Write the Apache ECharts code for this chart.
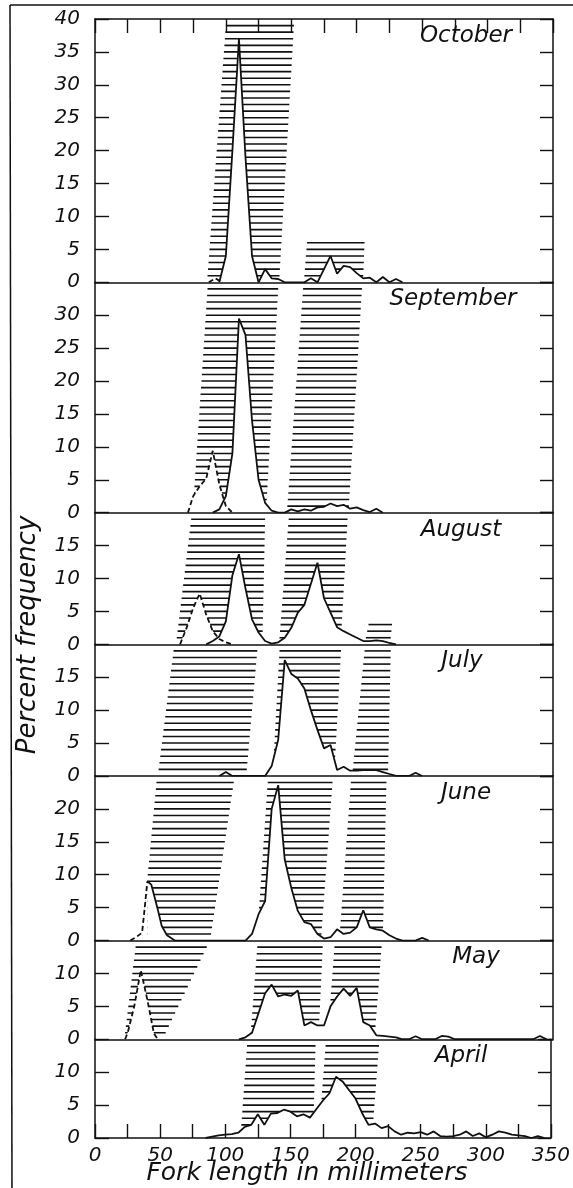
<!DOCTYPE html>
<html><head><meta charset="utf-8">
<script src="https://cdn.jsdelivr.net/npm/echarts/dist/echarts.min.js"></script>
<style>html,body{margin:0;padding:0;background:#fff}#c{width:573px;height:1188px}</style>
</head><body><div id="c"></div>
<script>
// ---------- DATA ----------
const months = ['October','September','August','July','June','May','April'];
const yMaxima = [40, 35, 20, 20, 25, 15, 15];
const xTickLabels = [0, 50, 100, 150, 200, 250, 300, 350];

// frequency polygons: [fork length mm, percent]
const octoberSolid = [[95,0],[100,4],[105,20],[110,37],[115,19],[120,4],[125,0],[130,2],[135,0.6],[140,0.5],[145,0],[160,0],[165,0.6],[170,0],[175,2],[180,4],[185,1.3],[190,2.5],[195,2.3],[200,1.4],[205,0.6],[210,0.7],[215,0],[220,0.8],[225,0],[230,0.5],[235,0]];
const octoberDashed = [[87,0],[92,0.6],[97,0]];

const septemberSolid = [[90,0],[95,0.5],[100,2.5],[105,9],[110,29.5],[115,27],[120,14],[125,5],[130,1.5],[135,0.3],[140,0],[145,0],[150,0.5],[155,0.2],[160,0.5],[165,0.3],[170,0.8],[175,0.9],[180,1.4],[185,1.0],[190,1.2],[195,0.6],[200,0.8],[205,0.4],[210,0.1],[215,0.6],[220,0]];
const septemberDashed = [[71,0],[75,2.5],[80,4],[85,5.2],[90,9.4],[95,4.3],[100,1],[105,0]];

const augustSolid = [[85,0],[90,0.5],[95,1.2],[100,3.5],[105,10.5],[110,13.7],[115,8.5],[120,3.8],[125,1.8],[130,0.5],[135,0.1],[140,0.3],[145,1.0],[150,2.5],[155,4.8],[160,6],[165,9.2],[170,12.4],[175,7],[180,4.8],[185,2.6],[190,2],[195,1.5],[200,1],[205,0.5],[210,0.5],[215,0.6],[220,0.5],[225,0.2],[230,0]];
const augustDashed = [[65,0],[70,2.5],[75,5.5],[80,7.7],[85,4.5],[90,2],[95,0.8],[100,0.3],[105,0]];

const julySolid = [[95,0],[100,0.6],[105,0],[130,0],[135,1.5],[140,5.5],[145,17.6],[150,15.5],[155,14.8],[160,13.3],[165,10],[170,7],[175,4.2],[180,4.7],[185,0.9],[190,1.4],[195,0.8],[200,0.8],[205,0.9],[210,0.9],[215,0.9],[220,0.6],[225,0.3],[230,0],[240,0],[245,0.5],[250,0]];
const julyDashed = [];

const juneSolid = [[40,9],[43,8.5],[48,4.7],[51,2.2],[55,0.8],[61,0],[115,0],[120,1],[125,4],[130,6],[135,20],[140,23.6],[145,12.3],[150,8],[155,4.5],[160,2.8],[165,2.5],[170,1],[175,0.3],[180,0.5],[185,1.7],[190,1],[195,1.2],[200,2],[205,4.6],[210,2],[215,1.7],[220,1.5],[225,0.8],[230,0.3],[235,0],[245,0],[250,0.4],[255,0]];
const juneDashed = [[27,0],[32,0.6],[36,1.2],[38,5],[40,9]];

const maySolid = [[110,0],[115,0.3],[120,1],[125,4],[130,7],[135,8.3],[140,6.5],[145,6.8],[150,6.6],[155,7.4],[160,2.1],[165,2.6],[170,2.1],[175,2.1],[180,5],[185,6.5],[190,7.7],[195,6.6],[200,7.8],[205,2.6],[210,2.1],[215,0.6],[220,0.5],[225,0.4],[230,0.3],[235,0],[240,0],[245,0.45],[250,0],[260,0],[265,0.5],[270,0.4],[275,0],[335,0],[340,0.5],[345,0]];
const mayDashed = [[23,0],[25,1],[30,5],[35,10.5],[40,6],[45,0.9],[48,0]];

const aprilSolid = [[85,0],[90,0.2],[95,0.4],[100,0.5],[105,0.6],[110,0.8],[115,1.7],[120,2],[125,3.6],[130,2.0],[135,3.7],[140,3.8],[145,4.3],[150,4.0],[155,3.3],[160,3.6],[165,3.1],[170,4.4],[175,5.7],[180,6.8],[185,9.3],[190,8.6],[195,7.3],[200,6],[205,3.8],[210,2.0],[215,2.2],[220,1.5],[225,1.8],[230,1.0],[235,0.5],[240,0.8],[245,0.7],[250,0.9],[255,0.5],[260,1.0],[265,0.3],[270,0.2],[275,0.3],[280,0.5],[285,1.0],[290,0.3],[295,0.7],[300,0.1],[305,0.5],[310,1.0],[315,0.8],[320,0.5],[325,0.4],[330,0.3],[335,0],[340,0.3],[345,0]];
const aprilDashed = [];

// hatched age-group bands: [lowLevel, highLevel, leftAtLow, rightAtLow, leftAtHigh, rightAtHigh]
const octoberBands = [[1,39,86,141,100,152],[1,6,160,205,162,206]];
const septemberBands = [[1,34,75,131,86,140],[1,34,147,194,159,204]];
const augustBands = [[1,19,62.5,128,73.5,130],[1,19,141,188,148,193],[1,3,207,226,209,227]];
const julyBands = [[1,19,48.6,116,60,124],[1,19,136,183,141,188],[1,19,197,224,206,226]];
const juneBands = [[1,24,36,88.7,47,106],[1,24,124,173,132,181.5],[1,24,187,220,195.5,222.7]];
const mayBands = [[1,14,23,54,31,85.4],[1,14,119,171,124,174],[1,14,178,214,183,219]];
const aprilBands = [[1,14,112,167.5,116.7,169.3],[1,14,172,213,177,218]];

// ---------- BUILD ----------
const solids = [octoberSolid, septemberSolid, augustSolid, julySolid, juneSolid, maySolid, aprilSolid];
const dashes = [octoberDashed, septemberDashed, augustDashed, julyDashed, juneDashed, mayDashed, aprilDashed];
const bands = [octoberBands, septemberBands, augustBands, julyBands, juneBands, mayBands, aprilBands];

const FONT = 'DejaVu Sans';
const INK = '#111';
const GL = 95, GW = 458, GT = 19, GB = 1138;
const total = yMaxima.reduce((a, b) => a + b, 0);
const unitPx = (GB - GT) / total;

function hatchData(list) {
  const out = [];
  list.forEach(b => {
    const [lo, hi, l0, r0, l1, r1] = b;
    for (let k = lo; k <= hi; k++) {
      const t = hi === lo ? 0 : (k - lo) / (hi - lo);
      out.push([l0 + t * (l1 - l0), r0 + t * (r1 - r0), k]);
    }
  });
  return out;
}
function hatchItem(params, api) {
  const a = api.coord([api.value(0), api.value(2)]);
  const b = api.coord([api.value(1), api.value(2)]);
  return { type: 'line', shape: { x1: a[0], y1: a[1], x2: b[0], y2: b[1] },
           style: { stroke: INK, lineWidth: 1.6 } };
}

const grids = [], xAxes = [], yAxes = [], series = [], graphics = [];
const lineAx = { show: true, onZero: false, lineStyle: { color: INK, width: 1.5 } };
const tickSt = { color: INK, width: 1.4 };
let yCursor = GT;
const labelX = [466, 453, 461, 462, 466, 476, 461];

months.forEach((m, i) => {
  const h = yMaxima[i] * unitPx;
  grids.push({ left: GL, top: yCursor, width: GW, height: h, show: false, containLabel: false });
  const last = i === months.length - 1;
  xAxes.push({
    type: 'value', gridIndex: i, min: 0, max: 350, interval: 25, position: 'bottom', z: 10,
    axisLine: lineAx,
    axisTick: { show: last, inside: true, length: 14, lineStyle: tickSt },
    axisLabel: { show: last, margin: 8, color: INK, fontFamily: FONT, fontStyle: 'italic', fontSize: 20,
                 hideOverlap: false, showMinLabel: true, showMaxLabel: true,
                 formatter: v => (xTickLabels.indexOf(v) >= 0 ? String(v) : '') },
    splitLine: { show: false }
  });
  yAxes.push({
    type: 'value', gridIndex: i, min: 0, max: yMaxima[i], interval: 5, position: 'left', z: 10,
    axisLine: lineAx,
    axisTick: { show: true, inside: true, length: 14, lineStyle: tickSt },
    axisLabel: { margin: 15, color: INK, fontFamily: FONT, fontStyle: 'italic', fontSize: 20,
                 hideOverlap: false, showMinLabel: true, showMaxLabel: i === 0 },
    splitLine: { show: false }
  });
  series.push({
    type: 'custom', xAxisIndex: i, yAxisIndex: i, z: 1, silent: true,
    renderItem: hatchItem, encode: { x: [0, 1], y: 2 }, data: hatchData(bands[i]), clip: false
  });
  [[solids[i], 'solid'], [dashes[i], 'dashed']].forEach(([d, ty]) => {
    if (!d.length) return;
    series.push({ type: 'line', xAxisIndex: i, yAxisIndex: i, z: 2, data: d, symbol: 'none', silent: true,
      lineStyle: { width: 0, opacity: 0 }, areaStyle: { color: '#fff', opacity: 1 } });
    series.push({ type: 'line', xAxisIndex: i, yAxisIndex: i, z: 3, data: d, symbol: 'none', silent: true,
      lineStyle: { width: 1.8, color: INK, type: ty === 'dashed' ? [5, 3] : 'solid' } });
  });
  graphics.push({ type: 'text', x: labelX[i], y: yCursor + 17, z: 20,
    style: { text: m, fill: INK, font: 'italic 23px "' + FONT + '"', align: 'center', verticalAlign: 'middle' } });
  yCursor += h;
});
// right-hand tick axes
months.forEach((m, i) => {
  yAxes.push({
    type: 'value', gridIndex: i, min: 0, max: yMaxima[i], interval: 5, position: 'right', z: 10,
    axisLine: lineAx, axisTick: { show: true, inside: true, length: 13, lineStyle: tickSt },
    axisLabel: { show: false }, splitLine: { show: false }
  });
});
// top ticks of the October panel
xAxes.push({
  type: 'value', gridIndex: 0, min: 0, max: 350, interval: 25, position: 'top', z: 10,
  axisLine: lineAx, axisTick: { show: true, inside: true, length: 14, lineStyle: tickSt },
  axisLabel: { show: false }, splitLine: { show: false }
});

graphics.push(
  { type: 'line', shape: { x1: 10, y1: 5, x2: 573, y2: 5 }, style: { stroke: INK, lineWidth: 1.5 } },
  { type: 'line', shape: { x1: 10, y1: 5, x2: 12, y2: 1188 }, style: { stroke: INK, lineWidth: 1.5 } },
  { type: 'text', x: 28, y: 635, rotation: Math.PI / 2,
    style: { text: 'Percent frequency', fill: INK, font: 'italic 26px "' + FONT + '"', align: 'center', verticalAlign: 'middle' } },
  { type: 'text', x: 307, y: 1173,
    style: { text: 'Fork length in millimeters', fill: INK, font: 'italic 25px "' + FONT + '"', align: 'center', verticalAlign: 'middle' } }
);

const chart = echarts.init(document.getElementById('c'));
chart.setOption({
  animation: false, backgroundColor: '#fff',
  grid: grids, xAxis: xAxes, yAxis: yAxes, series: series, graphic: graphics
});
</script></body></html>
